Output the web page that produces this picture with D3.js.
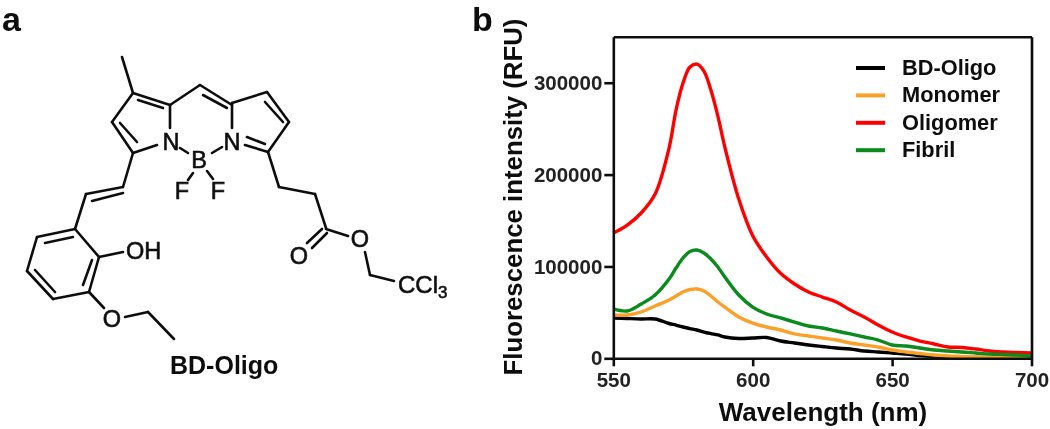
<!DOCTYPE html>
<html>
<head>
<meta charset="utf-8">
<title>BD-Oligo fluorescence</title>
<script src="https://cdnjs.cloudflare.com/ajax/libs/d3/7.8.5/d3.min.js"></script>
<style>
	html, body { margin: 0; padding: 0; background: white; }
	svg { display: block; }
	text { font-family: "Liberation Sans", Arial, sans-serif; fill: #111; }
</style>
</head>
<body>
<div id="viz"></div>
<script>
// emission spectra
var wavelengths = [550, 555, 560, 565, 570, 572.5, 575, 577.5, 580, 582.5, 585, 587.5, 590, 595, 600, 605, 610, 615, 620, 625, 630, 635, 640, 645, 650, 655, 660, 665, 670, 675, 680, 685, 690, 695, 700];
var bdOligo = [43900, 43300, 42800, 42800, 37900, 36200, 34100, 32400, 30800, 28600, 26900, 25400, 23200, 21600, 22100, 22600, 18800, 16700, 14500, 12800, 11200, 10100, 7900, 6900, 5800, 4700, 3100, 2000, 1400, 1100, 900, 700, 500, 300, 300];
var monomer = [47100, 47100, 50400, 56900, 63500, 67800, 72200, 74900, 75400, 73300, 67800, 61300, 55800, 45000, 38400, 34100, 30800, 26500, 24300, 22100, 19900, 16700, 14500, 12300, 9000, 6900, 5200, 3600, 2500, 2000, 1400, 1200, 1000, 900, 800];
var oligomer = [136400, 145100, 158200, 178800, 228900, 270300, 299700, 317100, 320300, 312700, 292000, 263700, 230000, 173400, 133500, 110300, 92500, 80900, 72200, 66700, 61300, 52600, 45000, 36200, 28600, 23200, 18800, 15600, 12300, 11800, 10100, 7900, 6900, 6300, 5800];
var fibril = [53700, 51500, 59100, 68900, 86300, 98300, 109200, 116300, 117900, 114600, 108100, 99400, 88500, 68900, 55800, 48200, 43900, 39500, 35200, 33000, 29700, 26500, 23200, 19900, 14500, 13400, 11200, 9000, 7900, 6900, 5800, 4700, 4100, 3600, 2500];

var seriesNames = ["BD-Oligo", "Monomer", "Oligomer", "Fibril"];
var seriesValues = [bdOligo, monomer, oligomer, fibril];
var seriesColors = ["#000000", "#fba12c", "#ff0000", "#078a1c"];

var xTicks = [550, 600, 650, 700];
var yTicks = [0, 100000, 200000, 300000];

// molecule of panel a: [x1, y1, x2, y2] in page pixels
var bonds = [
	[122, 57, 133, 93], [133, 93, 170, 105], [138, 100, 163, 108], [133, 93, 112, 122],
	[112, 122, 133, 153], [120, 123, 137, 142], [133, 153, 157, 145], [170, 105, 170, 128],
	[170, 105, 200, 85], [200, 85, 232, 105], [203, 95, 227, 108], [232, 103, 232, 128],
	[232, 103, 267, 92], [267, 92, 289, 122], [265, 102, 283, 122], [289, 122, 268, 152],
	[268, 152, 245, 145], [265, 144, 247, 137], [268, 152, 279, 187], [279, 187, 315, 194],
	[315, 194, 326, 228], [322, 229, 307, 243], [327, 233, 312, 248], [326, 229, 348, 236],
	[365, 252, 370, 275], [370, 275, 394, 281], [180, 148, 188, 153], [212, 153, 222, 147],
	[193, 173, 188, 180], [207, 171, 213, 179], [133, 153, 123, 187], [123, 187, 86, 194],
	[123, 193, 92, 201], [86, 194, 75, 229], [75, 229, 37, 237], [73, 237, 45, 243],
	[37, 237, 27, 271], [27, 271, 53, 299], [35, 270, 55, 292], [53, 299, 89, 292],
	[89, 292, 99, 257], [83, 285, 92, 260], [99, 257, 75, 229], [99, 257, 123, 252],
	[89, 292, 104, 308], [125, 317, 148, 312], [148, 312, 174, 339]
];

// atom labels: [text, x, baseline y, anchor]
var atoms = [
	["N", 171, 149.5, "middle"], ["N", 232, 149.5, "middle"], ["B", 199, 167.5, "middle"],
	["F", 182, 198.5, "middle"], ["F", 218, 198.5, "middle"], ["O", 299, 263.5, "middle"],
	["O", 360, 246.5, "middle"], ["OH", 126, 258.5, "start"], ["O", 112, 326.5, "middle"]
];

var svg = d3.select("#viz")
	.append("svg")
	.attr("width", 1050)
	.attr("height", 429);

// the reference is a slightly soft raster
svg.append("filter")
	.attr("id", "soft")
	.append("feGaussianBlur")
	.attr("stdDeviation", 0.5);

var root = svg.append("g").attr("filter", "url(#soft)");

var xScale = d3.scaleLinear().domain([550, 700]).range([613.3, 1031.5]);
var yScale = d3.scaleLinear().domain([0, 350000]).range([358.3, 36.8]);

function setUpPanelLetters(){

	root.selectAll("text.letter")
		.data([["a", 2], ["b", 472]])
		.enter()
		.append("text")
		.attr("class", "letter")
		.attr("x", function(d){return d[1];})
		.attr("y", 31)
		.style("font-size", "34px")
		.style("font-weight", "bold")
		.text(function(d){return d[0];});
}

function setUpMolecule(){

	root.selectAll("line.bond")
		.data(bonds)
		.enter()
		.append("line")
		.attr("class", "bond")
		.attr("x1", function(d){return d[0];})
		.attr("y1", function(d){return d[1];})
		.attr("x2", function(d){return d[2];})
		.attr("y2", function(d){return d[3];})
		.style("stroke", "#111")
		.style("stroke-width", 2.6)
		.style("stroke-linecap", "round");

	root.selectAll("text.atom")
		.data(atoms)
		.enter()
		.append("text")
		.attr("class", "atom")
		.attr("x", function(d){return d[1];})
		.attr("y", function(d){return d[2];})
		.attr("text-anchor", function(d){return d[3];})
		.style("font-size", "23.5px")
		.style("stroke", "#111")
		.style("stroke-width", 0.6)
		.text(function(d){return d[0];});

	// CCl3 with its subscript
	var ccl3 = root.append("text")
		.attr("x", 398)
		.attr("y", 293)
		.style("font-size", "24px")
		.style("stroke", "#111")
		.style("stroke-width", 0.6);
	ccl3.append("tspan").text("CCl");
	ccl3.append("tspan").attr("dy", 5).style("font-size", "17px").text("3");

	root.append("text")
		.attr("x", 170)
		.attr("y", 374)
		.style("font-size", "25px")
		.style("font-weight", "bold")
		.text("BD-Oligo");
}

function setUpCurves(){

	var line = d3.line()
		.x(function(d, i){return xScale(wavelengths[i]);})
		.y(function(d){return yScale(d);})
		.curve(d3.curveCatmullRom.alpha(0.5));

	root.selectAll("path.curve")
		.data(seriesValues)
		.enter()
		.append("path")
		.attr("class", "curve")
		.attr("d", line)
		.style("fill", "none")
		.style("stroke", function(d, i){return seriesColors[i];})
		.style("stroke-width", 3.4);
}

function setUpAxes(){

	var left = root.append("g")
		.attr("transform", "translate(" + xScale(550) + ",0)")
		.call(d3.axisLeft(yScale).tickValues(yTicks).tickFormat(d3.format("d")).tickSize(9).tickSizeOuter(0).tickPadding(2));

	var bottom = root.append("g")
		.attr("transform", "translate(0," + yScale(0) + ")")
		.call(d3.axisBottom(xScale).tickValues(xTicks).tickSize(8).tickSizeOuter(0).tickPadding(6));

	// frame, no ticks on these two
	var top = root.append("g")
		.attr("transform", "translate(0," + yScale(350000) + ")")
		.call(d3.axisTop(xScale).tickValues([]).tickSizeOuter(0));

	var right = root.append("g")
		.attr("transform", "translate(" + xScale(700) + ",0)")
		.call(d3.axisRight(yScale).tickValues([]).tickSizeOuter(0));

	[left, bottom, top, right].forEach(function(axis){
		axis.selectAll("path, line").style("stroke", "#111").style("stroke-width", 2.6);
		axis.selectAll("text")
			.style("font-family", "\"Liberation Sans\", Arial, sans-serif")
			.style("font-size", "20.5px")
			.style("font-weight", "bold")
			.style("fill", "#222");
	});

	root.append("text")
		.attr("x", 823)
		.attr("y", 421)
		.attr("text-anchor", "middle")
		.style("font-size", "26px")
		.style("font-weight", "bold")
		.text("Wavelength (nm)");

	root.append("text")
		.attr("transform", "translate(522,197) rotate(-90)")
		.attr("text-anchor", "middle")
		.style("font-size", "25.8px")
		.style("font-weight", "bold")
		.text("Fluorescence intensity (RFU)");
}

function setUpLegend(){

	var rows = root.selectAll("g.legend")
		.data(seriesNames)
		.enter()
		.append("g")
		.attr("class", "legend")
		.attr("transform", function(d, i){return "translate(856," + (68 + i * 27.4) + ")";});

	rows.append("line")
		.attr("x1", 0)
		.attr("x2", 29)
		.style("stroke", function(d, i){return seriesColors[i];})
		.style("stroke-width", 4);

	rows.append("text")
		.attr("x", 46)
		.attr("y", 7)
		.style("font-size", "21.8px")
		.style("font-weight", "bold")
		.text(function(d){return d;});
}

setUpPanelLetters();
setUpMolecule();
setUpCurves();
setUpAxes();
setUpLegend();
</script>
</body>
</html>
